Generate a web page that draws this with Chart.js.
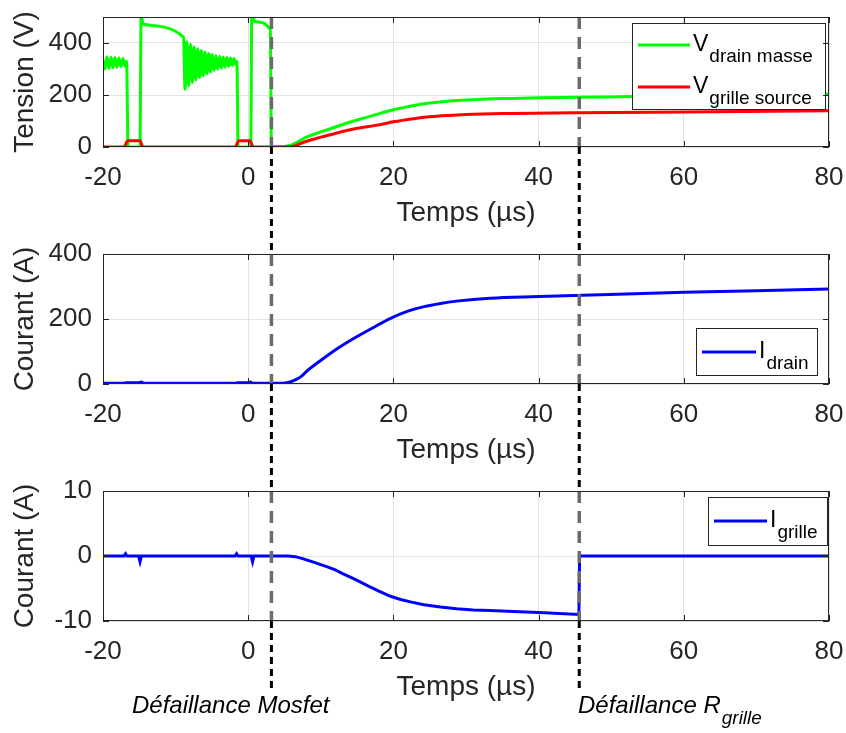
<!DOCTYPE html>
<html>
<head>
<meta charset="utf-8">
<script src="https://cdn.jsdelivr.net/npm/chart.js@4.4.1/dist/chart.umd.min.js"></script>
<style>
html,body{margin:0;padding:0;background:#fff;}
#wrap{position:relative;width:846px;height:733px;}
canvas{position:absolute;left:0;top:0;}
</style>
</head>
<body>
<div id="wrap">
  <canvas id="c1" width="846" height="733"></canvas>
  <canvas id="c2" width="846" height="733"></canvas>
  <canvas id="c3" width="846" height="733"></canvas>
</div>
<script>
// time axis, µs
const xTicks = [-20, 0, 20, 40, 60, 80];
const faultT = [3.2, 45.6];   // défaillance Mosfet, défaillance R grille

// V drain masse (V)
const vdmT = [-20,-19.72,-19.45,-19.17,-18.9,-18.62,-18.35,-18.07,-17.8,-17.52,-17.25,-16.97,-16.75,-16.55,
  -14.9,-14.75,-14.5,-8.9,-8.7,-8.45,-8.2,-7.95,-7.7,-7.45,-7.2,-6.95,-6.7,-6.45,-6.2,-5.95,-5.7,-5.45,-5.2,
  -4.95,-4.7,-4.45,-4.2,-3.95,-3.7,-3.45,-3.2,-2.95,-2.7,-2.45,-2.2,-1.95,-1.7,-1.55,-1.4,0.35,0.5,0.9,3.05,3.2,
  5,6,7,8,9,10,12,15,17.5,20,22.5,25,27.5,30,33,36.5,40,45.7,52.6,60,70,80];
const vdmV = [335,300,347,302,345,305,344,307,342,309,340,312,330,0,
  0,520,472,422,222,405,235,395,248,386,258,378,267,371,275,365,282,360,288,
  356,294,352,299,349,303,346,307,344,310,342,313,340,316,330,0,0,520,482,452,0,
  2,8,22,38,48,58,77,104,124,143,158,169,176,181,185,187,189,191,194,197,200,204];

// V grille source (V)
const vgsT = [-20,-17.1,-16.6,-14.9,-14.5,-1.8,-1.3,0.2,0.7,5.5,6.5,7.6,9,10.3,12.5,15,18.2,20,22.8,25,27.4,30,36.5,45.7,60,80];
const vgsV = [0,0,24,24,0,0,24,24,0,0,5,18,30,40,56,72,86,97,109,116,121,125,129,132,135,139];

// I drain (A)
const idT = [-20,-17.2,-16.8,-15.2,-14.7,-14.4,-1.8,-1.5,0,0.3,0.6,4,5.5,6.7,7.4,8.1,10.4,12.5,15,17.5,19.6,22,24.2,26.5,28.7,33.3,40,46,60,70,80];
const idV = [2,2,4,4,6,2,2,4,4,6,2,2,5,15,25,40,79,112,146,177,202,224,238,248,255,264,269,273,282,287,292];

// I grille (A)
const igT = [-20,-17.1,-16.9,-16.7,-15.1,-14.9,-14.7,-1.8,-1.6,-1.4,0.4,0.6,0.8,5.5,6.5,7.5,9,11,12,13,14,15,16.5,18,19.6,
  21,22.5,24.2,26.5,28.7,31,33.3,36.5,40,45.55,45.65,80];
const igV = [0,0,0.35,0,0,-0.9,0,0,0.35,0,0,-0.9,0,0,-0.1,-0.4,-0.95,-1.7,-2.15,-2.7,-3.2,-3.75,-4.6,-5.4,-6.2,
  -6.7,-7.1,-7.5,-7.85,-8.1,-8.3,-8.4,-8.55,-8.7,-9.0,0,0];

const vTicks = [0, 200, 400];
const idTicks = [0, 200, 400];
const igTicks = [-10, 0, 10];

const FONT = '"Liberation Sans", Arial, Helvetica, sans-serif';
const TXT = '#262626';
const GRID = '#e3e3e3';
const AREA_L = 103, AREA_R = 829, XH = 90;

Chart.defaults.font.family = FONT;
Chart.defaults.color = TXT;

const pts = (T, V) => T.map((t, i) => ({x: t, y: V[i]}));

function line(ctx, x0, y0, x1, y1){
  ctx.beginPath(); ctx.moveTo(x0, y0); ctx.lineTo(x1, y1); ctx.stroke();
}

function drawSubText(ctx, x, y, main, sub, size, subSize, italic){
  const st = italic ? 'italic ' : '';
  ctx.font = st + size + 'px ' + FONT;
  ctx.fillText(main, x, y);
  const w = ctx.measureText(main).width;
  ctx.font = st + subSize + 'px ' + FONT;
  ctx.fillText(sub, x + w + 1, y + 11);
}

// no automatic room for overflowing tick labels: the plot box is placed by hand
function noOverflow(s){
  s.paddingLeft = s.paddingRight = s.paddingTop = s.paddingBottom = 0;
}

const framePlugin = {
  id: 'frame',
  afterDatasetsDraw(chart){
    const {ctx, chartArea: a, scales: {x}} = chart;
    ctx.save();
    ctx.strokeStyle = '#6b6b6b'; ctx.lineWidth = 3.5; ctx.setLineDash([12, 8]);
    faultT.forEach(t => { const px = x.getPixelForValue(t); line(ctx, px, a.top, px, a.bottom); });
    ctx.restore();
  },
  afterDraw(chart, args, opts){
    const {ctx, chartArea: a, scales: {x, y}} = chart;
    ctx.save();
    // legend
    const lg = opts.legend;
    if (lg) {
      const [bx0, by0, bx1, by1] = lg.box;
      ctx.fillStyle = '#fff'; ctx.fillRect(bx0, by0, bx1 - bx0, by1 - by0);
      ctx.strokeStyle = TXT; ctx.lineWidth = 1; ctx.strokeRect(bx0 + 0.5, by0 + 0.5, bx1 - bx0, by1 - by0);
      lg.items.forEach(it => {
        ctx.strokeStyle = chart.data.datasets[it.ds].borderColor; ctx.lineWidth = 3;
        line(ctx, lg.lx[0], it.y, lg.lx[1], it.y);
        ctx.fillStyle = '#000'; ctx.textBaseline = 'alphabetic'; ctx.textAlign = 'left';
        drawSubText(ctx, lg.lx[1] + 3, it.y + 6, it.main, it.sub, 23, 19, false);
      });
    }
    // box + inward ticks
    ctx.strokeStyle = TXT; ctx.lineWidth = 1;
    ctx.strokeRect(a.left + 0.5, a.top + 0.5, a.right - a.left - 1, a.bottom - a.top - 1);
    const TL = 6;
    x.ticks.forEach(t => {
      const px = Math.round(x.getPixelForValue(t.value)) + 0.5;
      line(ctx, px, a.bottom, px, a.bottom - TL); line(ctx, px, a.top, px, a.top + TL);
    });
    y.ticks.forEach(t => {
      const py = Math.round(y.getPixelForValue(t.value)) + 0.5;
      line(ctx, a.left, py, a.left + TL, py); line(ctx, a.right, py, a.right - TL, py);
    });
    // figure-level dashed markers and notes (last panel only)
    if (opts.gaps) {
      ctx.strokeStyle = '#000'; ctx.lineWidth = 3; ctx.setLineDash([7, 5]);
      faultT.forEach(t => {
        const px = x.getPixelForValue(t);
        opts.gaps.forEach(g => line(ctx, px, g[0], px, g[1]));
      });
      ctx.setLineDash([]);
      ctx.fillStyle = '#000'; ctx.textAlign = 'left'; ctx.textBaseline = 'alphabetic';
      ctx.font = 'italic 24px ' + FONT;
      ctx.fillText('Défaillance Mosfet', 132, 713);
      drawSubText(ctx, 578, 713, 'Défaillance R', 'grille', 24, 19, true);
    }
    ctx.restore();
  }
};

function makePanel(id, p){
  return new Chart(document.getElementById(id), {
    type: 'line',
    data: {datasets: p.datasets},
    options: {
      responsive: false,
      animation: false,
      events: [],
      layout: {padding: {left: 0, right: 846 - AREA_R, top: p.top, bottom: 733 - p.bottom - XH}},
      elements: {point: {radius: 0}, line: {borderWidth: 3, tension: 0}},
      plugins: {
        legend: {display: false},
        tooltip: {enabled: false},
        frame: {legend: p.legend, gaps: p.gaps}
      },
      scales: {
        x: {
          type: 'linear', min: -20, max: 80,
          afterBuildTicks: s => { s.ticks = xTicks.map(v => ({value: v})); },
          afterFit: s => { s.height = XH; noOverflow(s); },
          grid: {color: GRID, drawTicks: false},
          border: {display: false},
          ticks: {font: {size: 26}, color: TXT, padding: 15, maxRotation: 0},
          title: {display: true, text: 'Temps (µs)', font: {size: 28}, color: TXT, padding: {top: 0, bottom: 7}}
        },
        y: {
          type: 'linear', min: p.ymin, max: p.ymax,
          afterBuildTicks: s => { s.ticks = p.yticks.map(v => ({value: v})); },
          afterFit: s => { s.width = AREA_L; noOverflow(s); },
          grid: {color: GRID, drawTicks: false},
          border: {display: false},
          ticks: {font: {size: 26}, color: TXT, padding: 11},
          title: {display: true, text: p.ytitle, font: {size: 28}, color: TXT, padding: {top: 8, bottom: 0}}
        }
      }
    },
    plugins: [framePlugin]
  });
}

makePanel('c1', {
  top: 17, bottom: 147, ymin: 0, ymax: 500, yticks: vTicks, ytitle: 'Tension (V)',
  datasets: [
    {label: 'V grille source', data: pts(vgsT, vgsV), borderColor: '#ff0000', cubicInterpolationMode: 'monotone'},
    {label: 'V drain masse', data: pts(vdmT, vdmV), borderColor: '#00ff00', cubicInterpolationMode: 'monotone'}
  ],
  legend: {box: [632, 23, 825, 109], lx: [638, 690], items: [
    {ds: 1, y: 45, main: 'V', sub: 'drain masse'},
    {ds: 0, y: 87, main: 'V', sub: 'grille source'}
  ]}
});

makePanel('c2', {
  top: 254, bottom: 384, ymin: 0, ymax: 400, yticks: idTicks, ytitle: 'Courant (A)',
  datasets: [
    {label: 'I drain', data: pts(idT, idV), borderColor: '#0000ff', cubicInterpolationMode: 'monotone'}
  ],
  legend: {box: [696, 328, 817, 375], lx: [702, 756], items: [
    {ds: 0, y: 352, main: 'I', sub: 'drain'}
  ]}
});

makePanel('c3', {
  top: 491, bottom: 621, ymin: -10, ymax: 10, yticks: igTicks, ytitle: 'Courant (A)',
  datasets: [
    {label: 'I grille', data: pts(igT, igV), borderColor: '#0000ff'}
  ],
  legend: {box: [708, 497, 827, 545], lx: [714, 767], items: [
    {ds: 0, y: 521, main: 'I', sub: 'grille'}
  ]},
  gaps: [[147, 254], [384, 491], [621, 690]]
});
</script>
</body>
</html>
